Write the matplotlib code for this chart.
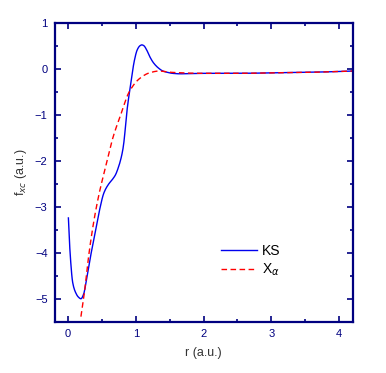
import matplotlib
matplotlib.use("Agg")
import matplotlib.pyplot as plt
import numpy as np
from matplotlib.ticker import MultipleLocator

plt.rcParams["font.family"] = ["Liberation Sans", "DejaVu Sans"]

# values
r_ks = [0.005, 0.03, 0.07, 0.11, 0.15, 0.19, 0.23, 0.27, 0.31, 0.36, 0.41,
        0.46, 0.53, 0.60, 0.655, 0.70, 0.74, 0.78, 0.814, 0.877, 0.927,
        0.976, 1.02, 1.06, 1.09, 1.12, 1.16, 1.20, 1.26, 1.33, 1.40, 1.47,
        1.54, 1.65, 2.0, 2.5, 3.0, 3.5, 4.2]
f_ks = [-3.24, -4.0, -4.66, -4.86, -4.96, -5.0, -4.9, -4.6, -4.25, -3.86,
        -3.49, -3.1, -2.69, -2.5, -2.40, -2.30, -2.15, -1.95, -1.7, -0.81,
        -0.30, 0.17, 0.42, 0.51, 0.53, 0.51, 0.42, 0.29, 0.14, 0.03, -0.04,
        -0.07, -0.09, -0.10, -0.09, -0.09, -0.08, -0.07, -0.04]

r_xa = [0.19, 0.24, 0.31, 0.385, 0.46, 0.55, 0.66, 0.78, 0.90, 1.05, 1.20,
        1.34, 1.54, 2.0, 2.5, 3.0, 3.5, 4.2]
f_xa = [-5.39, -4.88, -4.0, -3.27, -2.7, -2.15, -1.5, -0.98, -0.5, -0.21,
        -0.08, -0.04, -0.07, -0.09, -0.09, -0.08, -0.07, -0.04]

navy = "#000080"


def smooth(x, y, n=600):
    # monotone cubic through the read points
    x = np.asarray(x, float)
    y = np.asarray(y, float)
    h = np.diff(x)
    d = np.diff(y) / h
    m = np.zeros_like(y)
    m[0], m[-1] = d[0], d[-1]
    for i in range(1, len(x) - 1):
        if d[i - 1] * d[i] > 0:
            w1 = 2 * h[i] + h[i - 1]
            w2 = h[i] + 2 * h[i - 1]
            m[i] = (w1 + w2) / (w1 / d[i - 1] + w2 / d[i])
    xs = np.linspace(x[0], x[-1], n)
    idx = np.clip(np.searchsorted(x, xs) - 1, 0, len(x) - 2)
    t = (xs - x[idx]) / h[idx]
    h00 = 2 * t**3 - 3 * t**2 + 1
    h10 = t**3 - 2 * t**2 + t
    h01 = -2 * t**3 + 3 * t**2
    h11 = t**3 - t**2
    ys = (h00 * y[idx] + h10 * h[idx] * m[idx] + h01 * y[idx + 1]
          + h11 * h[idx] * m[idx + 1])
    return xs, ys


fig = plt.figure(figsize=(3.86, 3.73), dpi=100)
ax = fig.add_axes([54.5 / 386, 1 - 321.7 / 373, 298.2 / 386, 298.4 / 373])

x1, y1 = smooth(r_ks, f_ks)
x2, y2 = smooth(r_xa, f_xa)
ax.plot(x1, y1, color="#0000ee", lw=1.0, label="KS")
ax.plot(x2, y2, color="#ff0000", lw=1.0, ls=(0, (4, 2.5)), label=r"X$_\alpha$")

ax.set_xlim(-0.2, 4.2)
ax.set_ylim(-5.5, 1)
ax.xaxis.set_major_locator(MultipleLocator(1))
ax.xaxis.set_minor_locator(MultipleLocator(0.5))
ax.yaxis.set_major_locator(MultipleLocator(1))
ax.yaxis.set_minor_locator(MultipleLocator(0.5))
ax.tick_params(which="both", direction="in", top=True, right=True,
               color=navy, labelcolor=navy, labelsize=8, width=1.2)
ax.tick_params(which="major", length=4, pad=5)
ax.tick_params(which="minor", length=2)
for s in ax.spines.values():
    s.set_color(navy)
    s.set_linewidth(1.6)

ax.set_xlabel("r (a.u.)", fontsize=9, color="#333333", labelpad=6)
ax.set_ylabel(r"f$_{xc}$ (a.u.)", fontsize=9, color="#333333", labelpad=4)

ax.legend(loc="lower left", bbox_to_anchor=(0.515, 0.105), frameon=False,
          fontsize=10, handlelength=2.6, handletextpad=0.4, labelspacing=0.25)

fig.savefig("out.png", dpi=100)
